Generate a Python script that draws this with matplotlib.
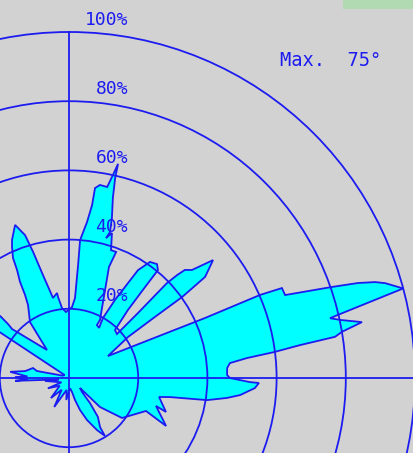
import numpy as np
import matplotlib
matplotlib.use("Agg")
import matplotlib.pyplot as plt
from matplotlib.patches import Circle, Polygon, Rectangle

# Polar distribution: angle in degrees (clockwise from vertical), radius in percent
outline_angle = [
    -56.0, -56.5, -55.0, -50.0, -48.0, -48.5, -49.3, -38.2, -34.9,
    -29.3, -27.9, -27.0, -25.7, -25.0, -23.5, -22.4, -19.4, -17.1, -15.9,
    -14.2, -11.3, -8.0, -7.7, -5.7, -2.6,
    2.4, 4.3, 4.6, 4.6, 6.6, 7.6, 7.8, 9.1, 11.3, 12.2, 12.9, 13.0, 13.7,
    15.0, 15.7, 14.8, 16.5, 18.2, 20.5, 19.8, 28.1, 27.8, 31.0,
    29.5, 30.5, 32.6, 34.9, 37.7, 39.5, 39.9, 40.9, 43.8, 47.5,
    46.7, 45.9, 46.4, 47.0, 48.7, 50.7, 53.4, 54.4, 54.6, 55.2, 60.6,
    66.2, 66.5, 67.1, 69.0, 70.9, 71.8, 72.6, 73.3, 75.0,
    76.8, 77.1, 77.9, 79.2, 80.4, 81.2, 81.9, 82.8, 83.6, 84.7, 86.4, 88.9,
    90.0, 91.3, 91.5, 93.1, 95.7, 97.2, 99.1, 100.7, 101.9, 109.3, 107.8,
    116.3, 113.2, 127.0, 133.1, 132.3,
    137.1, 140.0, 143.4, 147.7, 148.2, 151.7, 156.8, 161.0, 164.7, 168.0,
    174.0, 187.0, 191.0, 207.0, 212.0, 222.0, 230.0, 244.0, 240.0, 263.0,
    262.0, 267.0, 268.0, 271.0, 272.0, 276.0, 279.0, 285.5, 282.3, 290.0,
]
outline_radius = [
    1.5, 24.5, 28.5, 28.5, 26.8, 23.5, 21.7, 10.3, 19.7,
    24.2, 27.1, 31.2, 34.6, 38.3, 41.3, 43.2, 46.9, 43.2, 37.9,
    30.7, 23.6, 24.8, 23.6, 20.3, 19.1,
    20.5, 23.2, 32.8, 40.0, 45.4, 50.4, 55.4, 56.5, 56.3, 60.0, 63.5, 59.3, 53.5,
    47.9, 43.8, 41.8, 43.7, 38.9, 38.9, 34.1, 19.0, 17.3, 16.9,
    19.9, 26.2, 37.0, 40.9, 41.6, 40.4, 34.3, 26.0, 19.2, 18.8,
    27.4, 39.4, 43.1, 45.8, 47.3, 53.8, 49.0, 40.2, 30.5, 20.8, 12.9,
    43.0, 60.2, 66.8, 66.9, 80.4, 87.9, 92.7, 95.4, 100.0,
    79.8, 77.4, 80.1, 86.2, 80.0, 77.8, 67.4, 59.7, 51.8, 46.7, 45.8, 45.7,
    46.5, 52.3, 54.9, 53.8, 49.7, 46.0, 40.4, 29.7, 26.6, 29.7, 26.4,
    31.3, 24.2, 19.2, 12.3, 4.3,
    5.5, 9.4, 14.0, 16.8, 19.7, 17.1, 13.2, 9.8, 6.6, 4.1,
    3.0, 6.4, 3.5, 9.4, 4.0, 7.8, 3.5, 6.8, 2.5, 7.0,
    3.0, 15.6, 12.0, 15.6, 12.0, 17.1, 12.8, 10.8, 9.5, 2.0,
]

ring_levels = [20, 40, 60, 80, 100]
ring_labels = ["20%", "40%", "60%", "80%", "100%"]
max_angle = 75

bg = "#d2d2d2"
line_blue = "#1c1cf0"
fill_cyan = "#00ffff"

W, H, DPI = 414, 453, 100
fig = plt.figure(figsize=(W / DPI, H / DPI), dpi=DPI, facecolor=bg)
ax = fig.add_axes([0, 0, 1, 1])
ax.set_facecolor(bg)
ax.set_axis_off()

# one percent corresponds to 3.46 px; origin sits at pixel (69, 378)
scale = 3.46
ax.set_xlim(-69 / scale, (W - 69) / scale)
ax.set_ylim(-(H - 378) / scale, 378 / scale)
ax.set_aspect("equal")

theta = np.radians(outline_angle)
rad = np.asarray(outline_radius)
xs = rad * np.sin(theta)
ys = rad * np.cos(theta)
pts = np.column_stack([xs, ys])

ax.add_patch(Polygon(pts, closed=True, facecolor=fill_cyan, edgecolor="none", zorder=1))

for r in ring_levels:
    ax.add_patch(Circle((0, 0), r, fill=False, edgecolor=line_blue, lw=1.3, zorder=2))
ax.plot([-100, 100], [0, 0], color=line_blue, lw=1.3, zorder=2)
ax.plot([0, 0], [-100, 100], color=line_blue, lw=1.3, zorder=2)

ax.add_patch(Polygon(pts, closed=True, fill=False, edgecolor=line_blue, lw=1.3,
                     joinstyle="miter", zorder=3))

for r, lab in zip(ring_levels, ring_labels):
    ax.text(17.1, r + 1.0, lab, ha="right", va="bottom", color=line_blue,
            fontsize=13, family="DejaVu Sans Mono", zorder=4)

ax.text(61.0, 90.2, f"Max.  {max_angle}\u00b0", ha="left", va="baseline",
        color=line_blue, fontsize=13.5, family="DejaVu Sans Mono", zorder=4)

ax.add_patch(Rectangle((343 / W, 1 - 9 / H), 1 - 343 / W, 9 / H,
                       transform=ax.transAxes, facecolor="#b2dab2",
                       edgecolor="none", zorder=5, clip_on=False))

fig.savefig("out.png", dpi=DPI, facecolor=bg)
